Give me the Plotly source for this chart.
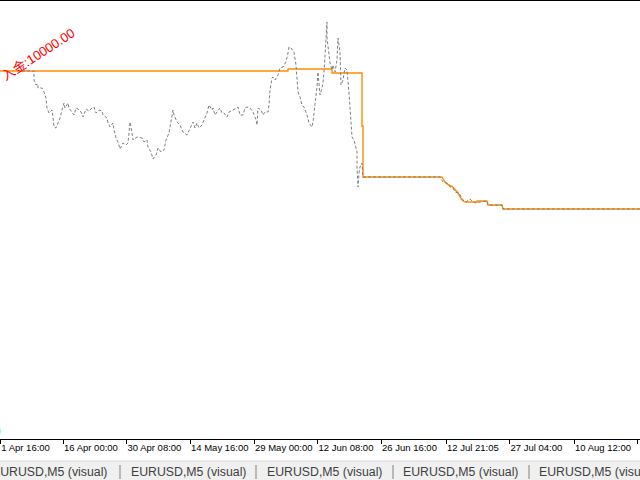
import plotly.graph_objects as go

# ---- data (bar index along the tester chart, account values) ----
eq_bar = [22, 34, 34, 36, 38, 38, 42, 44, 46, 47, 49, 52, 53, 54, 56, 58, 60, 62, 64, 65, 68, 69, 72, 74, 76, 78,
          81, 83, 86, 89, 92, 94, 96, 99, 102, 103, 107, 108, 110, 113, 114, 116, 118, 120, 122, 123, 126, 128,
          129, 130, 132, 133, 137, 142, 144, 147, 148, 151, 153, 156, 158, 161, 164, 166, 169, 171, 173, 174,
          177, 180, 183, 187, 190, 193, 195, 197, 199, 202, 204, 207, 209, 212, 213, 215, 217, 220, 222, 224,
          227, 229, 233, 236, 238, 240, 243, 245, 247, 250, 253, 256, 257, 258, 261, 263, 265, 268, 269, 270,
          272, 273, 275, 278, 280, 283, 286, 288, 289, 291, 294, 296, 297, 298, 300, 302, 304, 307, 309, 312,
          313, 315, 317, 318, 319, 320, 322, 323, 324, 326, 327, 327, 330, 332, 333, 335, 337, 338, 340, 341,
          343, 345, 347, 349, 352, 354, 357, 357, 358, 359, 360, 362, 363, 440, 443, 447, 450, 453, 455, 459,
          461, 463, 466, 470, 473, 476, 480, 487, 488, 493, 502, 503, 640]
equity = [10000, 10000, 9775, 9650, 9675, 9575, 9575, 9475, 9325, 9075, 8950, 9025, 8850, 8600, 8575, 8700,
          8825, 9025, 9200, 9075, 9200, 9075, 8950, 8900, 9075, 9050, 8975, 8850, 9050, 9000, 9075, 9100,
          8950, 9025, 9000, 8900, 8825, 8700, 8600, 8700, 8525, 8325, 8225, 8050, 8150, 8200, 8150, 8200,
          8450, 8725, 8450, 8275, 8350, 8325, 8225, 8275, 8100, 7975, 7800, 7900, 8075, 7975, 8025, 8275,
          8450, 8700, 9025, 8900, 8725, 8650, 8475, 8400, 8575, 8725, 8575, 8700, 8575, 8650, 8775, 8950,
          9150, 9025, 9075, 8900, 8975, 9075, 8950, 8950, 8850, 8975, 9025, 9075, 9100, 8900, 8900, 9075,
          9100, 9075, 8975, 8775, 8650, 9075, 9025, 8900, 8975, 8975, 9150, 9525, 9825, 9850, 9775, 9900,
          10075, 10100, 10225, 10450, 10600, 10575, 10475, 10150, 9650, 9475, 9350, 9150, 9100, 8900, 8700,
          8600, 8725, 9150, 9600, 9975, 9650, 9400, 9575, 9700, 9975, 10900, 11225, 10825, 10200, 10025,
          10150, 9975, 10275, 10825, 10475, 9650, 9775, 10075, 10025, 9450, 8350, 8275, 7975, 7600, 7100,
          7450, 7600, 7700, 7350, 7350, 7225, 7200, 7100, 7075, 6975, 6950, 6850, 6775, 6725, 6800, 6725,
          6700, 6725, 6750, 6650, 6650, 6650, 6550, 6550]

bal_bar = [-5, 288, 288, 332, 332, 362, 362, 363, 363, 442, 445, 447, 453, 456, 458, 460, 462, 465, 477, 477,
           487, 488, 502, 503, 645]
balance = [10000, 10000, 10050, 10050, 9950, 9950, 8625, 8625, 7350, 7350, 7225, 7175, 7100, 7025, 6950,
           6850, 6775, 6725, 6725, 6750, 6750, 6650, 6650, 6550, 6550]

tick_bars = [0.3, 63, 126.5, 190, 254, 317.5, 381, 446, 509.5, 574, 637]
tick_labels = ["1 Apr 16:00", "16 Apr 00:00", "30 Apr 08:00", "14 May 16:00", "29 May 00:00",
               "12 Jun 08:00", "26 Jun 16:00", "12 Jul 21:05", "27 Jul 04:00", "10 Aug 12:00", "25 Aug 20:00"]

deposit_text = "入金:10000.00"
tab_text = "EURUSD,M5 (visual)"
tab_x = [-10, 129, 265, 401, 537]
sep_x = [120, 256, 393, 529]

W, H = 640, 480
PLOT_H = 439

fig = go.Figure()
fig.add_trace(go.Scatter(x=bal_bar, y=balance, mode="lines",
                         line=dict(color="#ff8c00", width=1.4), hoverinfo="skip"))
fig.add_trace(go.Scatter(x=eq_bar, y=equity, mode="lines",
                         line=dict(color="#808080", width=1, dash="3px,2px"), hoverinfo="skip"))

def py(p):
    return (PLOT_H - p) / PLOT_H

shapes = [
    dict(type="line", xref="paper", yref="paper", x0=0, x1=1, y0=1, y1=1,
         line=dict(color="black", width=2)),
    dict(type="rect", xref="paper", yref="paper", x0=0, x1=1, y0=py(480), y1=py(461),
         fillcolor="#f0f0f0", line=dict(width=0), layer="below"),
    dict(type="line", xref="paper", yref="paper", x0=0, x1=1, y0=py(461), y1=py(461),
         line=dict(color="#d8d8d8", width=1)),
]
for sx in sep_x:
    shapes.append(dict(type="line", xref="paper", yref="paper", x0=sx / W, x1=sx / W,
                       y0=py(465), y1=py(479), line=dict(color="#808080", width=1)))

annotations = [
    dict(x=38, y=10425, xref="x", yref="y", text=deposit_text, showarrow=False, textangle=-33,
         xanchor="center", yanchor="middle",
         font=dict(family="Liberation Sans, Noto Sans CJK SC", size=13, color="#ff0000")),
    dict(x=3 / W, y=py(431), xref="paper", yref="paper", text="0", showarrow=False,
         xanchor="right", yanchor="middle",
         font=dict(family="Liberation Sans", size=10, color="#00ff00")),
]
for tx in tab_x:
    annotations.append(dict(x=tx / W, y=py(472), xref="paper", yref="paper", text=tab_text,
                            showarrow=False, xanchor="left", yanchor="middle",
                            font=dict(family="Liberation Sans", size=12.3, color="#404040")))

fig.update_layout(
    width=W, height=H,
    margin=dict(l=0, r=0, t=0, b=H - PLOT_H, pad=0, autoexpand=False),
    paper_bgcolor="white", plot_bgcolor="white",
    showlegend=False,
    shapes=shapes, annotations=annotations,
    xaxis=dict(range=[0, 640], showgrid=False, zeroline=False, automargin=False,
               tickmode="array", tickvals=tick_bars, ticktext=tick_labels, tickangle=0,
               ticks="outside", ticklen=4, tickcolor="black", tickwidth=1,
               ticklabelposition="outside right",
               showline=True, linecolor="black", linewidth=1,
               tickfont=dict(family="Liberation Sans", size=9.5, color="black")),
    yaxis=dict(range=[800, 11775], visible=False, showgrid=False, zeroline=False, automargin=False),
)

fig.write_html("out.html", config={"displayModeBar": False},
               post_script="document.body.style.margin='0';document.body.style.overflow='hidden';")
